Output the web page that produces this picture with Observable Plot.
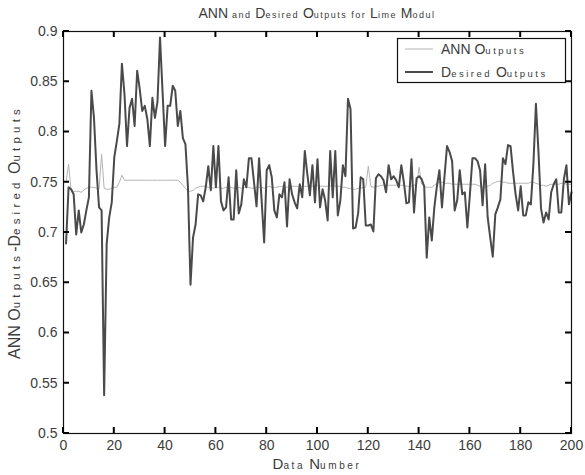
<!DOCTYPE html>
<html><head><meta charset="utf-8">
<script src="https://cdn.jsdelivr.net/npm/d3@7"></script>
<script src="https://cdn.jsdelivr.net/npm/@observablehq/plot@0.6"></script>
<style>body{margin:0;background:#fff} svg{display:block}</style>
</head><body><div id="chart"></div>
<script>
const dataNumber = d3.range(1, 201);
const annOutputs = [
0.750,0.768,0.742,0.741,0.741,0.741,0.740,0.742,0.744,0.745,
0.745,0.745,0.744,0.743,0.778,0.744,0.743,0.743,0.744,0.745,
0.745,0.750,0.757,0.752,0.752,0.752,0.752,0.752,0.752,0.752,
0.752,0.752,0.752,0.752,0.752,0.752,0.752,0.752,0.752,0.752,
0.752,0.752,0.752,0.752,0.752,0.750,0.747,0.744,0.741,0.741,
0.742,0.744,0.745,0.746,0.746,0.746,0.745,0.745,0.744,0.745,
0.745,0.744,0.744,0.745,0.745,0.745,0.744,0.745,0.745,0.744,
0.745,0.745,0.745,0.744,0.744,0.745,0.745,0.745,0.744,0.745,
0.746,0.745,0.745,0.745,0.746,0.746,0.745,0.745,0.746,0.746,
0.746,0.746,0.745,0.746,0.746,0.746,0.745,0.746,0.746,0.747,
0.746,0.746,0.746,0.746,0.746,0.747,0.746,0.746,0.746,0.745,
0.745,0.744,0.744,0.743,0.743,0.744,0.744,0.745,0.745,0.766,
0.746,0.745,0.746,0.746,0.747,0.747,0.747,0.747,0.747,0.747,
0.747,0.747,0.747,0.747,0.746,0.746,0.746,0.747,0.748,0.765,
0.748,0.746,0.745,0.745,0.745,0.747,0.749,0.750,0.750,0.749,
0.749,0.749,0.748,0.748,0.748,0.748,0.748,0.748,0.748,0.748,
0.748,0.748,0.747,0.746,0.745,0.745,0.746,0.747,0.749,0.750,
0.751,0.751,0.750,0.750,0.749,0.749,0.749,0.749,0.749,0.749,
0.749,0.749,0.749,0.750,0.750,0.749,0.748,0.747,0.747,0.746,
0.747,0.748,0.748,0.748,0.748,0.749,0.749,0.748,0.748,0.748
];
const desiredOutputs = [
0.689,0.745,0.743,0.738,0.698,0.722,0.700,0.708,0.722,0.735,
0.841,0.814,0.762,0.725,0.722,0.538,0.689,0.715,0.730,0.775,
0.791,0.808,0.868,0.838,0.786,0.824,0.833,0.806,0.861,0.843,
0.821,0.826,0.813,0.786,0.834,0.814,0.830,0.894,0.840,0.786,
0.826,0.826,0.846,0.841,0.806,0.821,0.794,0.788,0.745,0.648,
0.695,0.708,0.738,0.737,0.731,0.745,0.766,0.742,0.786,0.745,
0.786,0.731,0.722,0.725,0.755,0.713,0.713,0.762,0.719,0.728,
0.753,0.745,0.774,0.774,0.750,0.726,0.774,0.732,0.690,0.762,
0.767,0.755,0.722,0.715,0.738,0.735,0.750,0.706,0.753,0.738,
0.730,0.724,0.748,0.735,0.781,0.758,0.737,0.767,0.730,0.773,
0.725,0.743,0.732,0.712,0.781,0.735,0.781,0.717,0.732,0.767,
0.756,0.833,0.823,0.704,0.705,0.719,0.755,0.753,0.707,0.707,
0.708,0.701,0.754,0.758,0.756,0.752,0.740,0.767,0.753,0.756,
0.752,0.745,0.767,0.750,0.729,0.730,0.773,0.720,0.754,0.756,
0.753,0.746,0.675,0.715,0.692,0.725,0.746,0.762,0.725,0.756,
0.786,0.780,0.771,0.722,0.732,0.762,0.738,0.740,0.705,0.738,
0.774,0.774,0.771,0.762,0.727,0.768,0.715,0.695,0.676,0.718,
0.725,0.733,0.774,0.768,0.787,0.786,0.760,0.738,0.722,0.746,
0.717,0.717,0.730,0.728,0.768,0.828,0.780,0.724,0.710,0.720,
0.713,0.740,0.748,0.753,0.720,0.720,0.753,0.767,0.728,0.740
];
const xTicks = [0, 20, 40, 60, 80, 100, 120, 140, 160, 180, 200];
const yTicks = [0.5, 0.55, 0.6, 0.65, 0.7, 0.75, 0.8, 0.85, 0.9];
const yTickLabels = ["0.5", "0.55", "0.6", "0.65", "0.7", "0.75", "0.8", "0.85", "0.9"];
const titleText = "ANN and Desired Outputs for Lime Modul";
const xLabel = "Data Number";
const yLabel = "ANN Outputs-Desired Outputs";
const seriesNames = ["ANN Outputs", "Desired Outputs"];
const seriesColors = ["#b4b4b4", "#4a4a4a"];
const seriesWidths = [1, 2];

const rows = dataNumber.map((d, i) => ({d, ann: annOutputs[i], des: desiredOutputs[i]}));
const font = "'Liberation Sans', Arial, sans-serif";
const textColor = "#3c3c3c";
const W = 585, H = 475, mL = 63, mR = 14, mT = 31, mB = 42;
const xDomain = [0, 200], yDomain = [0.5, 0.9];
const tickPx = 6;

const plot = Plot.plot({
  width: W, height: H,
  marginLeft: mL, marginRight: mR, marginTop: mT, marginBottom: mB,
  style: {fontFamily: font, fontSize: "14px", color: textColor, background: "#fff"},
  x: {domain: xDomain},
  y: {domain: yDomain},
  marks: [
    Plot.line(rows, {x: "d", y: "ann", stroke: seriesColors[0], strokeWidth: seriesWidths[0]}),
    Plot.line(rows, {x: "d", y: "des", stroke: seriesColors[1], strokeWidth: seriesWidths[1]}),
    Plot.frame({stroke: "#111", strokeWidth: 1.2}),
    Plot.axisX({anchor: "bottom", ticks: xTicks, tickSize: 0, tickPadding: 7, label: null, tickFormat: d => String(d)}),
    Plot.axisY({anchor: "left", ticks: yTicks, tickSize: 0, tickPadding: 6, label: null, tickFormat: d => yTickLabels[yTicks.indexOf(d)]})
  ]
});
document.getElementById("chart").appendChild(plot);

const svg = d3.select(plot);
const xs = plot.scale("x"), ys = plot.scale("y");
const x0 = xs.apply(xDomain[0]), x1 = xs.apply(xDomain[1]);
const yB = ys.apply(yDomain[0]), yT = ys.apply(yDomain[1]);
const cx = (x0 + x1) / 2, cy = (yB + yT) / 2;

// inward tick marks on all four sides, placed through Plot's scales
const tg = svg.append("g").attr("stroke", "#000").attr("stroke-width", 2).attr("fill", "none");
xTicks.forEach(t => {
  const px = xs.apply(t);
  tg.append("line").attr("x1", px).attr("x2", px).attr("y1", yB).attr("y2", yB - tickPx);
  tg.append("line").attr("x1", px).attr("x2", px).attr("y1", yT).attr("y2", yT + tickPx);
});
yTicks.forEach(t => {
  const py = ys.apply(t);
  tg.append("line").attr("x1", x0).attr("x2", x0 + tickPx).attr("y1", py).attr("y2", py);
  tg.append("line").attr("x1", x1).attr("x2", x1 - tickPx).attr("y1", py).attr("y2", py);
});

function styled(sel, str, big, small, spacing) {
  const runs = str.match(/[a-z]+|[^a-z]+/g);
  runs.forEach(r => {
    const lower = /[a-z]/.test(r[0]);
    sel.append("tspan")
      .attr("font-size", lower ? small : big)
      .attr("letter-spacing", lower ? spacing : 0)
      .text(r);
  });
  return sel;
}
const g = svg.append("g").attr("font-family", font).attr("fill", textColor);

styled(g.append("text").attr("x", cx).attr("y", 18).attr("text-anchor", "middle"), titleText, 14, 9, 1.5);
styled(g.append("text").attr("x", cx).attr("y", 469).attr("text-anchor", "middle"), xLabel, 15, 10, 2.6);
styled(g.append("text").attr("transform", `translate(20,${cy}) rotate(-90)`).attr("text-anchor", "middle"), yLabel, 16, 11.5, 4.2);

// legend
const lg = svg.append("g");
lg.append("rect").attr("x", 397.5).attr("y", 38.5).attr("width", 168).attr("height", 44)
  .attr("fill", "#fff").attr("stroke", "#111").attr("stroke-width", 1.2);
seriesNames.forEach((name, i) => {
  const yy = 49 + i * 23;
  lg.append("line").attr("x1", 405).attr("x2", 433).attr("y1", yy).attr("y2", yy)
    .attr("stroke", seriesColors[i]).attr("stroke-width", seriesWidths[i]);
  styled(lg.append("text").attr("x", 441).attr("y", yy + 5).attr("text-anchor", "start")
    .attr("font-family", font).attr("fill", textColor), name, 14, 9.5, 2.5);
});
</script>
</body></html>
